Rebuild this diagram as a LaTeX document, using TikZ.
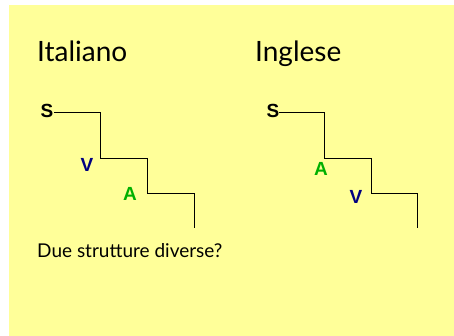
\documentclass[tikz,border=0pt]{standalone}
\usepackage{fontspec}
\setmainfont{Lato}
\newfontfamily\letterfont{Liberation Sans}
\definecolor{bgyellow}{HTML}{FFFF99}
\definecolor{vblue}{HTML}{000080}
\definecolor{agreen}{HTML}{00B000}
\begin{document}
\begin{tikzpicture}[x=1pt,y=-1pt,
  title/.style={anchor=base west,inner sep=0pt,font=\fontsize{28}{30}\selectfont},
  letter/.style={inner sep=0pt,font=\letterfont\bfseries\fontsize{19}{20}\selectfont},
  stair/.style={draw=black,line width=0.9pt}]
\useasboundingbox (0,0) rectangle (454,336);
\fill[white] (0,0) rectangle (454,336);
\fill[bgyellow] (9,5) rectangle (454,336);
% titles
\node[title] (it) at (37,62) {Italiano};
\node[title] (en) at (255,62) {Inglese};
% left staircase
\node[letter] (s1) at (47,111) {S};
\node[letter,text=vblue] (v1) at (87,165) {V};
\node[letter,text=agreen] (a1) at (130,194) {A};
\coordinate (l0) at (54,112.5);
\draw[stair] (l0) -- (100,112.5) -- (100,158) -- (147,158) -- (147,193) -- (194,193) -- (194,228);
% right staircase
\node[letter] (s2) at (273,111) {S};
\node[letter,text=agreen] (a2) at (321,169) {A};
\node[letter,text=vblue] (v2) at (356,197) {V};
\coordinate (r0) at (279,112.5);
\draw[stair] (r0) -- (324,112.5) -- (324,158) -- (371,158) -- (371,193) -- (417,193) -- (417,228);
% question
\node[anchor=base west,inner sep=0pt,font=\fontsize{19}{21}\selectfont] (q) at (37,257) {Due strutture diverse?};
\end{tikzpicture}
\end{document}
